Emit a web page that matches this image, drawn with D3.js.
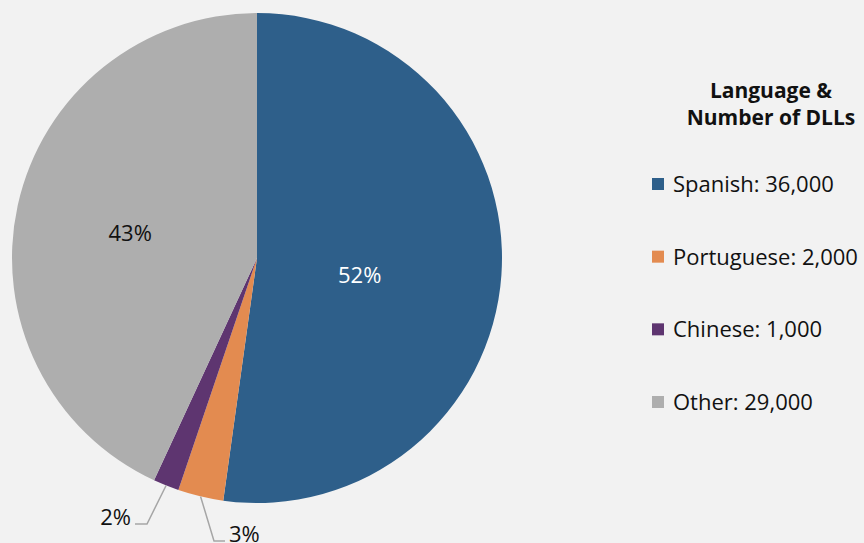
<!DOCTYPE html>
<html><head><meta charset="utf-8">
<script src="https://cdn.jsdelivr.net/npm/d3@7"></script>
<style>
html,body{margin:0;padding:0;background:#f2f2f2;}
svg{display:block;font-family:"Open Sans",sans-serif;}
</style></head>
<body>
<svg id="chart" width="864" height="543"></svg>
<script>
// ---- data ----
const languages = ["Spanish", "Portuguese", "Chinese", "Other"];
const counts = [36000, 2000, 1000, 29000];
const shares = [52.2, 3.0, 1.7, 43.1];
const pctLabels = ["52%", "3%", "2%", "43%"];
const colors = ["#2e5f8a", "#e38b50", "#5e3570", "#aeaeae"];
const legendTitle = ["Language &", "Number of DLLs"];

const svg = d3.select("#chart");
const cx = 257, cy = 258, R = 245;

const pie = d3.pie().sort(null).value(d => d.share);
const data = languages.map((l, i) => ({lang: l, count: counts[i], share: shares[i], label: pctLabels[i], color: colors[i]}));
const arcs = pie(data);
const arc = d3.arc().innerRadius(0).outerRadius(R);

const g = svg.append("g").attr("transform", `translate(${cx},${cy})`);
g.selectAll("path.slice").data(arcs).enter().append("path")
  .attr("class", "slice")
  .attr("d", arc)
  .attr("fill", d => d.data.color);

// inside labels
const insideR = {Spanish: {r: 0.42, dy: 18}, Other: {r: 0.53, dy: 11}};
arcs.filter(d => insideR[d.data.lang]).forEach(d => {
  const o = insideR[d.data.lang];
  const r = R * o.r;
  const a = d3.arc().innerRadius(r).outerRadius(r);
  const [x, y] = a.centroid(d);
  g.append("text").attr("x", x).attr("y", y + o.dy)
    .attr("text-anchor", "middle")
    .attr("font-size", 22)
    .attr("fill", d.data.lang === "Spanish" ? "#ffffff" : "#111111")
    .text(d.data.label);
});

// outside labels with leaders
const outside = {
  Portuguese: {elbow: [-43, 283], end: [-32, 283], anchor: "start"},
  Chinese: {elbow: [-110, 266], end: [-122, 266], anchor: "end"}
};
arcs.filter(d => outside[d.data.lang]).forEach(d => {
  const o = outside[d.data.lang];
  const mid = (d.startAngle + d.endAngle) / 2;
  const p0 = [R * Math.sin(mid), -R * Math.cos(mid)];
  g.append("polyline")
    .attr("points", [p0, o.elbow, o.end].map(p => p.join(",")).join(" "))
    .attr("fill", "none").attr("stroke", "#a6a6a6").attr("stroke-width", 1.5);
  g.append("text")
    .attr("x", o.end[0] + (o.anchor === "start" ? 4 : -4))
    .attr("y", o.end[1] + 1)
    .attr("text-anchor", o.anchor)
    .attr("font-size", 22)
    .attr("fill", "#111111")
    .text(d.data.label);
});

// legend
const lg = svg.append("g");
legendTitle.forEach((t, i) => {
  lg.append("text").attr("x", 771).attr("y", 98 + i * 27)
    .attr("text-anchor", "middle").attr("font-size", 21).attr("font-weight", "bold")
    .attr("fill", "#111111").text(t);
});
const fmt = d3.format(",");
const rowY = d3.scalePoint().domain(languages).range([184, 402]);
data.forEach(d => {
  const y = rowY(d.lang);
  lg.append("rect").attr("x", 652).attr("y", y - 6).attr("width", 12).attr("height", 12).attr("fill", d.color);
  lg.append("text").attr("x", 673).attr("y", y + 8)
    .attr("font-size", 22).attr("fill", "#111111")
    .text(`${d.lang}: ${fmt(d.count)}`);
});
</script>
</body></html>
